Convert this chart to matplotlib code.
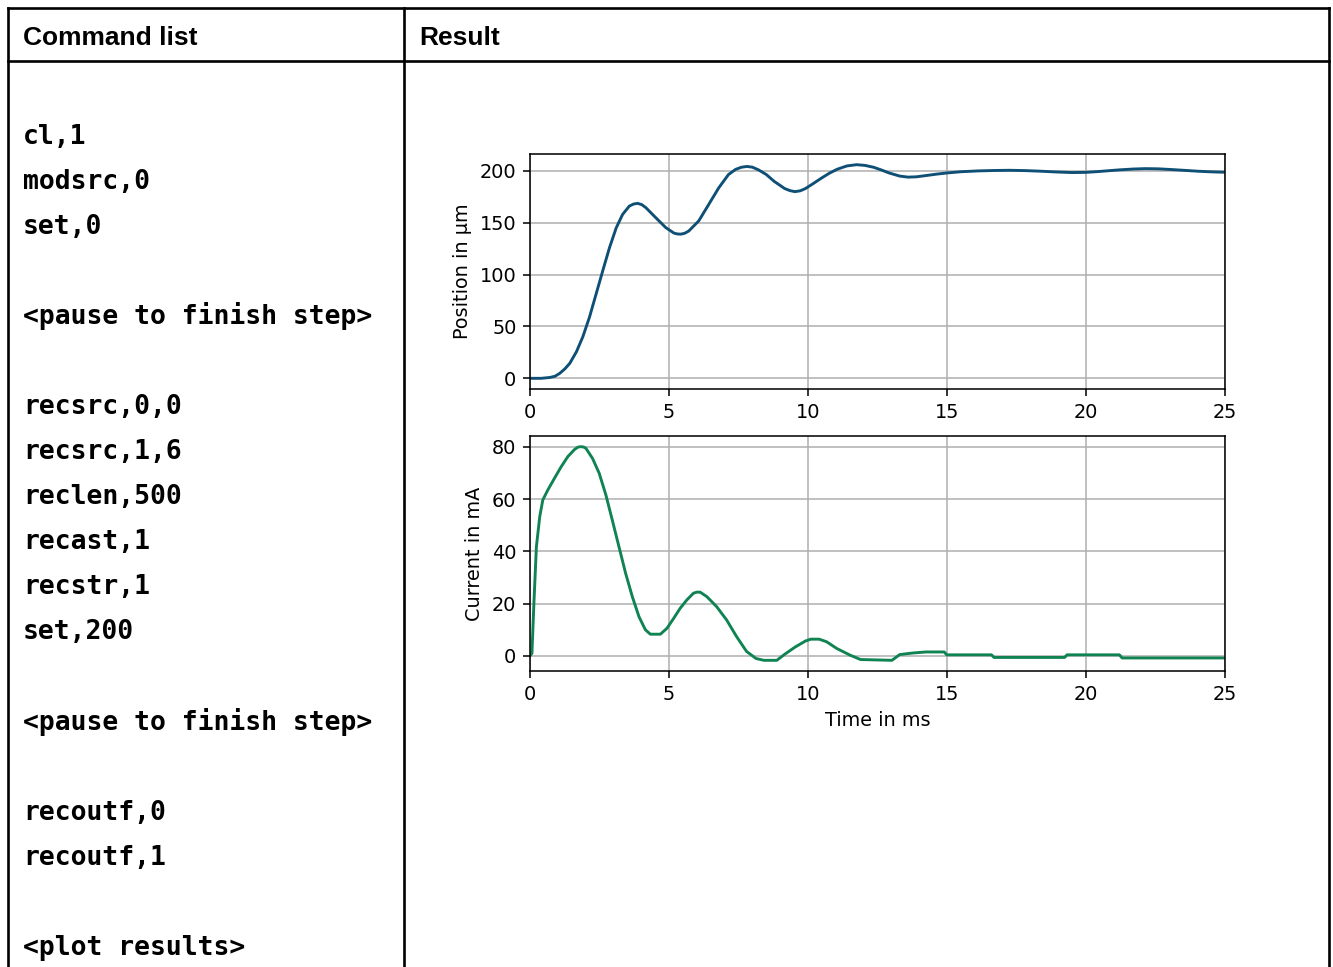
import matplotlib
matplotlib.use("Agg")
import matplotlib.pyplot as plt

# left column of the table, "" marks an empty line
commands = ["cl,1", "modsrc,0", "set,0", "", "<pause to finish step>", "",
            "recsrc,0,0", "recsrc,1,6", "reclen,500", "recast,1", "recstr,1", "set,200",
            "", "<pause to finish step>", "", "recoutf,0", "recoutf,1", "", "<plot results>"]
headers = ["Command list", "Result"]

# position trace (ms, um)
pos_t = [0, 0.4, 0.71, 0.9, 1.07, 1.25, 1.43, 1.67, 1.9, 2.14, 2.38, 2.62, 2.86, 3.1, 3.33,
         3.57, 3.72, 3.87, 4.02, 4.17, 4.52, 4.88, 5.18, 5.3, 5.42, 5.56, 5.71, 6.07, 6.43,
         6.79, 7.14, 7.4, 7.6, 7.8, 8.0, 8.22, 8.5, 8.78, 9.16, 9.35, 9.53, 9.72, 9.91, 10.2,
         10.48, 10.77, 11.05, 11.4, 11.75, 12.05, 12.36, 12.65, 12.92, 13.3, 13.6, 13.9, 14.24,
         14.6, 14.99, 15.5, 16.12, 16.7, 17.25, 17.8, 18.38, 18.9, 19.5, 20.0, 20.45, 21.2,
         21.7, 22.14, 22.6, 23.08, 23.5, 24.02, 24.5, 25]
pos_v = [0, 0, 0.8, 2, 4.8, 9, 14.4, 25.6, 40, 59, 81.5, 104, 126, 145, 158,
         166, 168, 168.7, 167.5, 164.5, 155, 145.4, 140, 139.2, 139, 139.8, 142, 151.8, 167.7,
         183.7, 196.5, 201.5, 203.5, 204.3, 203.6, 201, 196.5, 190, 183, 181, 180, 180.8, 183, 188,
         193, 197.8, 201.6, 204.8, 206, 205.3, 203.5, 200.8, 198, 195, 194, 194.3, 195.5,
         196.8, 198, 199.2, 200, 200.4, 200.6, 200.3, 199.7, 199, 198.4, 198.6, 199.4, 201,
         201.8, 202.2, 202, 201.3, 200.6, 199.7, 199.1, 198.7]

# motor current trace (ms, mA)
cur_t = [0, 0.07, 0.14, 0.23, 0.35, 0.46, 0.64, 0.88, 1.12, 1.36, 1.6, 1.72, 1.81, 1.92, 2.01,
         2.25, 2.49, 2.73, 2.96, 3.2, 3.44, 3.68, 3.92, 4.15, 4.33, 4.69, 4.93, 5.17, 5.4, 5.64,
         5.88, 6.0, 6.12, 6.36, 6.71, 7.07, 7.43, 7.79, 8.13, 8.41, 8.88, 9.16, 9.54, 9.91, 10.1,
         10.4, 10.67, 11.04, 11.51, 11.89, 13.02, 13.3, 13.77, 14.24, 14.9, 14.99, 16.6, 16.69,
         19.23, 19.32, 21.2, 21.3, 25]
cur_v = [0, 1, 20, 41.8, 53.3, 59.7, 63.5, 68, 72.4, 76.3, 79, 79.9, 80.1, 80, 79.5,
         75.6, 69.9, 61.6, 52, 41.8, 31.6, 22.7, 15, 10, 8.3, 8.3, 10.6, 14.4, 18.2, 21.4,
         24, 24.4, 24.4, 22.7, 18.9, 13.8, 7.4, 1.7, -1, -1.7, -1.7, 0.6, 3.4, 5.7, 6.4,
         6.4, 5.4, 2.8, 0.3, -1.4, -1.7, 0.5, 1.1, 1.5, 1.5, 0.4, 0.4, -0.6,
         -0.6, 0.4, 0.4, -0.8, -0.8]

W, H = 1333, 967
fig = plt.figure(figsize=(W / 100, H / 100), dpi=100)

# table frame and text drawn in pixel coordinates
bg = fig.add_axes([0, 0, 1, 1], zorder=0)
bg.set_xlim(0, W)
bg.set_ylim(H, 0)
bg.axis("off")
lw = 1.9
for y in (7.5, 61):
    bg.plot([7.5, 1329], [y, y], color="black", lw=lw, solid_capstyle="projecting")
for x in (7.5, 403.5, 1328.8):
    bg.plot([x, x], [7.5, H], color="black", lw=lw, solid_capstyle="projecting")

bg.text(23, 45, headers[0], fontsize=19, fontweight="bold", family="Liberation Sans", va="baseline")
bg.text(419, 45, headers[1], fontsize=19, fontweight="bold", family="Liberation Sans", va="baseline")

for k, cmd in enumerate(commands):
    if cmd:
        bg.text(23, 143.7 + 45.07 * k, cmd, fontsize=19, fontweight="bold",
                family="DejaVu Sans Mono", va="baseline")

# the two result plots, a default matplotlib figure scaled up by ~1.39
s = 1.39
plt.rcParams.update({
    "font.size": 13.9,
    "axes.linewidth": 0.8 * s,
    "grid.linewidth": 0.8 * s,
    "xtick.major.size": 3.5 * s,
    "ytick.major.size": 3.5 * s,
    "xtick.major.width": 0.8 * s,
    "ytick.major.width": 0.8 * s,
    "xtick.major.pad": 3.5 * s,
    "ytick.major.pad": 3.5 * s,
    "axes.labelpad": 4 * s,
})

ax1 = fig.add_axes([530 / W, 1 - 389 / H, 695 / W, 235 / H], zorder=1)
ax1.plot(pos_t, pos_v, color="#0e4f75", lw=1.5 * s)
ax1.set_xlim(0, 25)
ax1.set_ylabel("Position in µm")
ax1.grid(True)

ax2 = fig.add_axes([530 / W, 1 - 671 / H, 695 / W, 235 / H], zorder=1)
ax2.plot(cur_t, cur_v, color="#0f8351", lw=1.5 * s)
ax2.set_xlim(0, 25)
ax2.set_xlabel("Time in ms")
ax2.set_ylabel("Current in mA")
ax2.grid(True)

fig.savefig("out.png", dpi=100)
